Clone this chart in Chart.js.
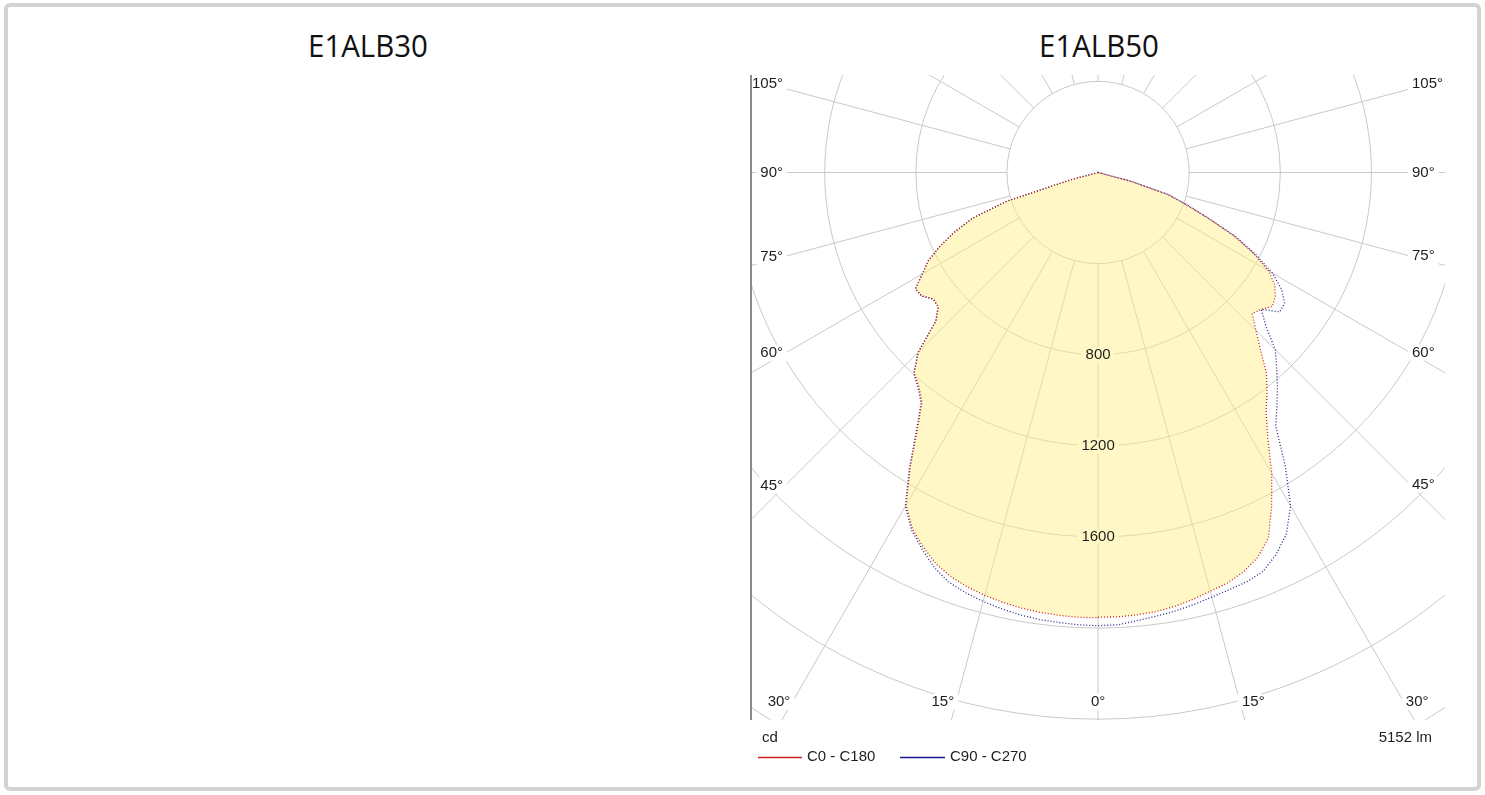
<!DOCTYPE html>
<html><head><meta charset="utf-8">
<script src="https://cdn.jsdelivr.net/npm/chart.js@4.4.1/dist/chart.umd.min.js"></script>
<style>
html,body{margin:0;padding:0;background:#fff;}
body{width:1485px;height:795px;position:relative;overflow:hidden;}
#frame{position:absolute;left:4px;top:3px;width:1469px;height:780px;border:4px solid #d3d3d3;border-radius:6px;}
.title{position:absolute;top:24px;line-height:42px;font-family:'Open Sans',sans-serif;font-size:31px;color:#111;transform:translateX(-50%) scaleX(0.95);white-space:nowrap;}
#c{position:absolute;left:740px;top:65px;}
</style></head>
<body>
<div id="frame"></div>
<div class="title" style="left:368px">E1ALB30</div>
<div class="title" style="left:1099px">E1ALB50</div>
<canvas id="c" width="720" height="725"></canvas>
<script>
// ---- data ----
const gammaDeg = [0,2.5,5,7.5,10,12.5,15,17.5,20,22.5,25,27.5,30,32.5,35,37.5,40,42.5,45,47.5,50,52.5,55,57.5,60,62.5,65,67.5,70,72.5,75,77.5,80,82.5,85,87.5,90];
const intensityC0   = [1953,1953,1950,1945,1935,1920,1903,1890,1866,1830,1770,1650,1525,1388,1286,1218,1150,1055,980,917,935,965,950,920,865,770,660,520,410,320,150,0,0,0,0,0,0];
const intensityC180 = [1955,1955,1952,1948,1942,1933,1922,1908,1888,1860,1815,1765,1685,1535,1385,1270,1225,1195,1115,965,915,912,945,950,890,840,765,680,585,420,120,0,0,0,0,0,0];
const intensityC90  = [1990,1988,1975,1965,1955,1943,1930,1920,1912,1895,1850,1790,1690,1530,1360,1290,1225,1160,1100,1000,935,1005,1000,955,885,780,665,525,415,325,150,0,0,0,0,0,0];
const intensityC270 = [1990,1988,1983,1980,1972,1962,1950,1935,1915,1878,1826,1772,1692,1542,1392,1276,1230,1198,1118,967,917,914,946,951,891,841,766,681,586,421,121,0,0,0,0,0,0];
const ringValues = [400,800,1200,1600,2000,2400,2800];
const ringLabels = [800,1200,1600];
const angleLabels = [0,15,30,45,60,75,90,105];
const seriesNames = ['C0 - C180','C90 - C270'];
const unitText = 'cd';
const fluxText = '5152 lm';

// ---- build polar curves (left half plane, then right half plane) ----
function curve(left, right){
  const pts = [];
  for (let i = gammaDeg.length-1; i >= 0; i--){
    const g = gammaDeg[i]*Math.PI/180;
    pts.push({x: -left[i]*Math.sin(g), y: -left[i]*Math.cos(g)});
  }
  for (let i = 0; i < gammaDeg.length; i++){
    const g = gammaDeg[i]*Math.PI/180;
    pts.push({x: right[i]*Math.sin(g), y: -right[i]*Math.cos(g)});
  }
  return pts;
}

const FONT = '15px "Liberation Sans", Arial, sans-serif';
const TEXT = '#1e1e1e';
const GRID = '#c9c9c9';

function geometry(chart){
  const {chartArea:a, scales:{x,y}} = chart;
  const cx = x.getPixelForValue(0), cy = y.getPixelForValue(0);
  const k = (x.getPixelForValue(1000) - cx)/1000;
  return {a, cx, cy, k};
}

function labelItems(chart){
  const {a, cx, cy, k} = geometry(chart);
  const ctx = chart.ctx;
  ctx.font = FONT;
  const items = [];
  const insetX = 35, insetB = 18, insetT = 3;
  angleLabels.forEach(deg => {
    const sides = deg === 0 ? [0] : [-1, 1];
    sides.forEach(s => {
      const t = deg*Math.PI/180;
      const sx = Math.sin(t), sy = Math.cos(t);
      let tt = Infinity;
      if (s !== 0) tt = Math.min(tt, (s < 0 ? cx-(a.left+insetX) : (a.right-insetX)-cx)/sx);
      if (sy > 1e-6) tt = Math.min(tt, (a.bottom-insetB-cy)/sy);
      const px = cx + s*sx*tt;
      let py = cy + sy*tt;
      if (sy < -1e-6) py = Math.max(a.top + insetT + 6, py - 10);
      const text = deg + '°';
      const w = ctx.measureText(text).width;
      let x0;
      if (s < 0) x0 = px - 2 - w; else if (s > 0) x0 = px + 2; else x0 = px - w/2;
      items.push({text, x: x0, y: py, w});
    });
  });
  ringLabels.forEach(v => {
    const text = String(v);
    const w = ctx.measureText(text).width;
    items.push({text, x: cx - w/2, y: cy + v*k, w});
  });
  return items;
}

const polarPlugin = {
  id: 'polarPlugin',
  beforeDraw(chart){
    const {a, cx, cy, k} = geometry(chart);
    const ctx = chart.ctx;
    ctx.save();
    ctx.beginPath();
    ctx.rect(a.left, a.top, a.right-a.left, a.bottom-a.top);
    ctx.clip();
    ctx.strokeStyle = GRID;
    ctx.lineWidth = 1;
    ringValues.forEach(v => {
      ctx.beginPath(); ctx.arc(cx, cy, v*k, 0, Math.PI*2); ctx.stroke();
    });
    const r0 = ringValues[0]*k, r1 = 4000*k;
    for (let d = 0; d < 360; d += 15){
      const t = d*Math.PI/180, sx = Math.sin(t), sy = Math.cos(t);
      ctx.beginPath();
      ctx.moveTo(cx + sx*r0, cy + sy*r0);
      ctx.lineTo(cx + sx*r1, cy + sy*r1);
      ctx.stroke();
    }
    ctx.fillStyle = '#ffffff';
    labelItems(chart).forEach(l => ctx.fillRect(l.x-4, l.y-8, l.w+8, 16));
    ctx.restore();
  },
  afterDraw(chart){
    const {a} = geometry(chart);
    const ctx = chart.ctx;
    ctx.save();
    ctx.font = FONT;
    ctx.fillStyle = TEXT;
    ctx.textBaseline = 'middle';
    ctx.textAlign = 'left';
    labelItems(chart).forEach(l => ctx.fillText(l.text, l.x, l.y));
    // left axis line
    ctx.strokeStyle = '#8a8a8a';
    ctx.lineWidth = 2;
    ctx.beginPath(); ctx.moveTo(a.left+1, a.top); ctx.lineTo(a.left+1, a.bottom); ctx.stroke();
    // unit and flux
    ctx.fillText(unitText, a.left+12, a.bottom+18);
    ctx.textAlign = 'right';
    ctx.fillText(fluxText, a.right-13, a.bottom+18);
    // legend
    ctx.textAlign = 'left';
    const ly = a.bottom + 37;
    const ds = chart.data.datasets;
    const xs = [[a.left+8, a.left+52, a.left+57],[a.left+150, a.left+195, a.left+200]];
    ds.forEach((d, i) => {
      ctx.strokeStyle = d.legendColor;
      ctx.lineWidth = 1.5;
      ctx.beginPath(); ctx.moveTo(xs[i][0], ly+0.5); ctx.lineTo(xs[i][1], ly+0.5); ctx.stroke();
      ctx.fillText(d.label, xs[i][2], ly);
    });
    ctx.restore();
  }
};

new Chart(document.getElementById('c'), {
  type: 'scatter',
  data: {
    datasets: [
      {label: seriesNames[0], data: curve(intensityC180, intensityC0), showLine: true, tension: 0,
       borderColor: '#c81e1e', legendColor: '#d02020', borderWidth: 1.3, borderDash: [1,2], pointRadius: 0,
       fill: 'shape', backgroundColor: 'rgba(255,240,130,0.46)'},
      {label: seriesNames[1], data: curve(intensityC270, intensityC90), showLine: true, tension: 0,
       borderColor: '#23238c', legendColor: '#1a1a90', borderWidth: 1.3, borderDash: [1,2], pointRadius: 0,
       fill: false}
    ]
  },
  options: {
    responsive: false,
    animation: false,
    events: [],
    layout: {padding: {left: 10, top: 10, right: 15, bottom: 70}},
    scales: {
      x: {type: 'linear', display: false, min: -1528, max: 1523, bounds: 'data'},
      y: {type: 'linear', display: false, min: -2404, max: 428, bounds: 'data'}
    },
    plugins: {
      legend: {display: false},
      tooltip: {enabled: false},
      filler: {propagate: false, drawTime: 'beforeDatasetsDraw'}
    }
  },
  plugins: [polarPlugin]
});
</script>
</body></html>
